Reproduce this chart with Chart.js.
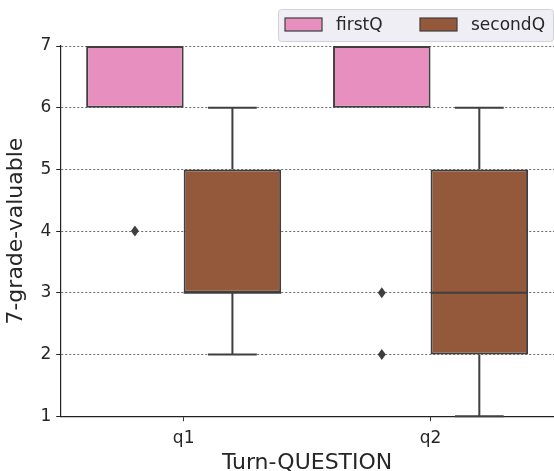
<!DOCTYPE html>
<html>
<head>
<meta charset="utf-8">
<script src="https://cdn.jsdelivr.net/npm/chart.js@4"></script>
<style>
  body { margin: 0; background: #fff; }
  #wrap { width: 554px; height: 471px; }
</style>
</head>
<body>
<div id="wrap"><canvas id="boxChart"></canvas></div>
<script>
// categories and box stats
var categories = ['q1', 'q2'];
var seriesNames = ['firstQ', 'secondQ'];
var seriesColors = ['#e78fbe', '#94593a'];

var firstMin = [6, 6];
var firstQ1 = [6, 6];
var firstMedian = [7, 7];
var firstQ3 = [7, 7];
var firstMax = [7, 7];
var firstOutliers = [[4], [3, 2]];

var secondMin = [2, 1];
var secondQ1 = [3, 2];
var secondMedian = [3, 3];
var secondQ3 = [5, 5];
var secondMax = [6, 6];
var secondOutliers = [[], []];

var yTicks = [1, 2, 3, 4, 5, 6, 7];

var FONT = "'DejaVu Sans', sans-serif";
var LINE = '#3f3f3f';

var stats = [
    { min: firstMin, q1: firstQ1, med: firstMedian, q3: firstQ3, max: firstMax, out: firstOutliers },
    { min: secondMin, q1: secondQ1, med: secondMedian, q3: secondQ3, max: secondMax, out: secondOutliers }
];

function boxRanges(s) {
    return categories.map(function (c, i) { return [s.q1[i], s.q3[i]]; });
}

function clipArea(chart) {
    var a = chart.chartArea;
    chart.ctx.beginPath();
    chart.ctx.rect(a.left, a.top + 1, a.right - a.left, a.bottom - a.top + 1);
    chart.ctx.clip();
}

// whiskers, medians, outliers and the legend frame
var boxParts = {
    id: 'boxParts',
    beforeDatasetsDraw: function (chart) {
        var ctx = chart.ctx, y = chart.scales.y;
        ctx.save();
        ctx.strokeStyle = LINE;
        ctx.lineWidth = 2;
        stats.forEach(function (s, d) {
            chart.getDatasetMeta(d).data.forEach(function (bar, i) {
                var p = bar.getProps(['x', 'width'], true);
                var cap = p.width / 4;
                ctx.beginPath();
                if (s.max[i] > s.q3[i]) {
                    var ty = y.getPixelForValue(s.max[i]);
                    ctx.moveTo(p.x, y.getPixelForValue(s.q3[i]));
                    ctx.lineTo(p.x, ty);
                    ctx.moveTo(p.x - cap, ty);
                    ctx.lineTo(p.x + cap, ty);
                }
                if (s.min[i] < s.q1[i]) {
                    var by = y.getPixelForValue(s.min[i]);
                    ctx.moveTo(p.x, y.getPixelForValue(s.q1[i]));
                    ctx.lineTo(p.x, by);
                    ctx.moveTo(p.x - cap, by);
                    ctx.lineTo(p.x + cap, by);
                }
                ctx.stroke();
            });
        });
        ctx.restore();
    },
    afterDatasetsDraw: function (chart) {
        var ctx = chart.ctx, y = chart.scales.y;
        ctx.save();
        clipArea(chart);
        ctx.strokeStyle = LINE;
        ctx.fillStyle = LINE;
        ctx.lineWidth = 2;
        stats.forEach(function (s, d) {
            chart.getDatasetMeta(d).data.forEach(function (bar, i) {
                var p = bar.getProps(['x', 'width'], true);
                var my = y.getPixelForValue(s.med[i]);
                ctx.beginPath();
                ctx.moveTo(p.x - p.width / 2, my);
                ctx.lineTo(p.x + p.width / 2, my);
                ctx.stroke();
                s.out[i].forEach(function (v) {
                    var oy = y.getPixelForValue(v);
                    ctx.beginPath();
                    ctx.moveTo(p.x, oy - 5.5);
                    ctx.lineTo(p.x + 4, oy);
                    ctx.lineTo(p.x, oy + 5.5);
                    ctx.lineTo(p.x - 4, oy);
                    ctx.closePath();
                    ctx.fill();
                });
            });
        });
        ctx.restore();
    },
    afterDraw: function (chart) {
        var ctx = chart.ctx;
        var left = 278, top = 9, w = 275, h = 32;
        ctx.save();
        ctx.fillStyle = '#eeeef4';
        ctx.strokeStyle = '#d2d2da';
        ctx.lineWidth = 1;
        ctx.beginPath();
        ctx.roundRect(left + 0.5, top + 0.5, w, h, 3);
        ctx.fill();
        ctx.stroke();
        ctx.font = '17px ' + FONT;
        ctx.textBaseline = 'middle';
        var itemX = [left + 7, left + 142];
        chart.data.datasets.forEach(function (ds, d) {
            var bx = itemX[d], cy = top + h / 2;
            ctx.fillStyle = ds.backgroundColor;
            ctx.fillRect(bx, cy - 7, 37, 13);
            ctx.strokeStyle = LINE;
            ctx.lineWidth = 1.2;
            ctx.strokeRect(bx, cy - 7, 37, 13);
            ctx.fillStyle = '#262626';
            ctx.fillText(ds.label, bx + 51, cy + 1);
        });
        ctx.restore();
    }
};

var boxCtx = document.getElementById('boxChart').getContext('2d');

var boxChart = new Chart(boxCtx, {
    type: 'bar',
    data: {
        labels: categories,
        datasets: stats.map(function (s, d) {
            return {
                label: seriesNames[d],
                data: boxRanges(s),
                backgroundColor: seriesColors[d],
                borderColor: LINE,
                borderWidth: 2,
                borderSkipped: false,
                clip: 0,
                categoryPercentage: 0.79,
                barPercentage: 1
            };
        })
    },
    options: {
        responsive: true,
        maintainAspectRatio: false,
        animation: false,
        layout: { padding: { top: 46, right: 0, left: 3, bottom: 0 } },
        plugins: {
            legend: { display: false },
            tooltip: { enabled: false }
        },
        scales: {
            x: {
                grid: { drawOnChartArea: false, drawTicks: true, tickLength: 5, tickColor: '#333', offset: false },
                border: { color: '#222', width: 1.2 },
                ticks: { color: '#262626', font: { family: FONT, size: 17 }, padding: 7 },
                title: { display: true, text: 'Turn-QUESTION', color: '#262626', font: { family: FONT, size: 22, lineHeight: 0.7 }, padding: { top: 0, bottom: 0 } }
            },
            y: {
                min: 1,
                max: 7,
                z: 1,
                afterBuildTicks: function (scale) {
                    scale.ticks = yTicks.map(function (v) { return { value: v }; });
                },
                grid: { color: '#444', lineWidth: 0.8, drawTicks: true, tickLength: 4, tickColor: '#222', tickWidth: 1, tickBorderDash: [] },
                border: { color: '#222', width: 1.2, dash: [2, 2] },
                ticks: { color: '#262626', font: { family: FONT, size: 17 }, padding: 5 },
                title: { display: true, text: '7-grade-valuable', color: '#262626', font: { family: FONT, size: 22 }, padding: { top: 0, bottom: 6 } }
            }
        }
    },
    plugins: [boxParts]
});
</script>
</body>
</html>
